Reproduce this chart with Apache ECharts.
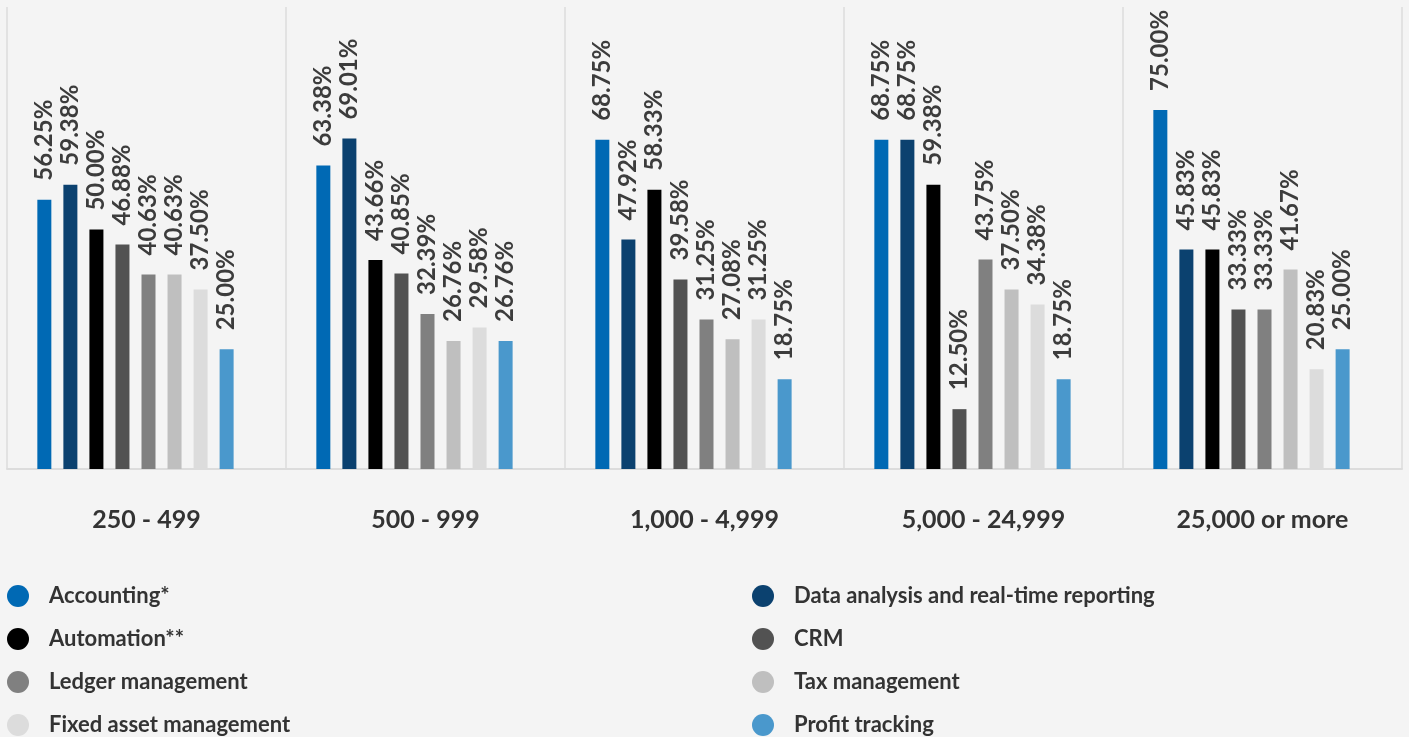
<!DOCTYPE html>
<html>
<head>
<meta charset="utf-8">
<script src="https://cdn.jsdelivr.net/npm/echarts@6/dist/echarts.min.js"></script>
<style>
  html, body { margin: 0; padding: 0; background: #f4f4f4; }
  #chart { width: 1409px; height: 737px; }
</style>
</head>
<body>
<div id="chart"></div>
<script>
var categories = ['250 - 499', '500 - 999', '1,000 - 4,999', '5,000 - 24,999', '25,000 or more']

var seriesNames = [
  'Accounting*',
  'Data analysis and real-time reporting',
  'Automation**',
  'CRM',
  'Ledger management',
  'Tax management',
  'Fixed asset management',
  'Profit tracking'
]

var accounting = [56.25, 63.38, 68.75, 68.75, 75.00]
var dataAnalysis = [59.38, 69.01, 47.92, 68.75, 45.83]
var automation = [50.00, 43.66, 58.33, 59.38, 45.83]
var crm = [46.88, 40.85, 39.58, 12.50, 33.33]
var ledger = [40.63, 32.39, 31.25, 43.75, 33.33]
var tax = [40.63, 26.76, 27.08, 37.50, 41.67]
var fixedAsset = [37.50, 29.58, 31.25, 34.38, 20.83]
var profit = [25.00, 26.76, 18.75, 18.75, 25.00]

var colors = ['#0069b4', '#0b416f', '#000000', '#525252', '#808080', '#bfbfbf', '#dcdcdc', '#4a98cc']

var allValues = [accounting, dataAnalysis, automation, crm, ledger, tax, fixedAsset, profit]

var fontName = 'Lato, "Open Sans", sans-serif'

var series = allValues.map(function (vals, i) {
  return {
    name: seriesNames[i],
    type: 'bar',
    data: vals,
    barWidth: 14,
    barGap: '86%',
    itemStyle: { color: colors[i] },
    label: {
      show: true,
      position: 'top',
      rotate: 90,
      align: 'left',
      verticalAlign: 'middle',
      distance: 19,
      color: '#3c3c3c',
      fontFamily: fontName,
      fontSize: 24,
      fontWeight: 'bold',
      formatter: function (p) { return p.value.toFixed(2) + '%' }
    }
  }
})
// empty slot after the last bar in every group (keeps groups shifted left like the original)
series.push({
  name: 'spacer',
  type: 'bar',
  data: [null, null, null, null, null],
  barWidth: 10,
  barGap: '86%',
  silent: true
})

var legendText = { color: '#333333', fontFamily: fontName, fontSize: 22, fontWeight: 'bold', padding: [0, 0, 0, 15] }

var chart = echarts.init(document.getElementById('chart'))
chart.setOption({
  backgroundColor: '#f4f4f4',
  animation: false,
  grid: { left: 7, right: 7, top: 7, bottom: 268 },
  xAxis: {
    type: 'category',
    data: categories,
    axisLine: { lineStyle: { color: '#dcdcdc', width: 2 } },
    axisTick: { show: false },
    splitLine: { show: true, lineStyle: { color: '#e2e2e2', width: 2 } },
    axisLabel: {
      margin: 38,
      color: '#333333',
      fontFamily: fontName,
      fontSize: 25,
      fontWeight: 'bold'
    }
  },
  yAxis: {
    type: 'value',
    min: 0,
    max: 96.5,
    show: false,
    splitLine: { show: false }
  },
  legend: [
    {
      data: [seriesNames[0], seriesNames[2], seriesNames[4], seriesNames[6]],
      orient: 'vertical',
      left: 7,
      top: 585,
      padding: 0,
      icon: 'circle',
      itemWidth: 22,
      itemHeight: 22,
      itemGap: 21,
      selectedMode: false,
      textStyle: legendText
    },
    {
      data: [seriesNames[1], seriesNames[3], seriesNames[5], seriesNames[7]],
      orient: 'vertical',
      left: 752,
      top: 585,
      padding: 0,
      icon: 'circle',
      itemWidth: 22,
      itemHeight: 22,
      itemGap: 21,
      selectedMode: false,
      textStyle: legendText
    }
  ],
  series: series
})
</script>
</body>
</html>
